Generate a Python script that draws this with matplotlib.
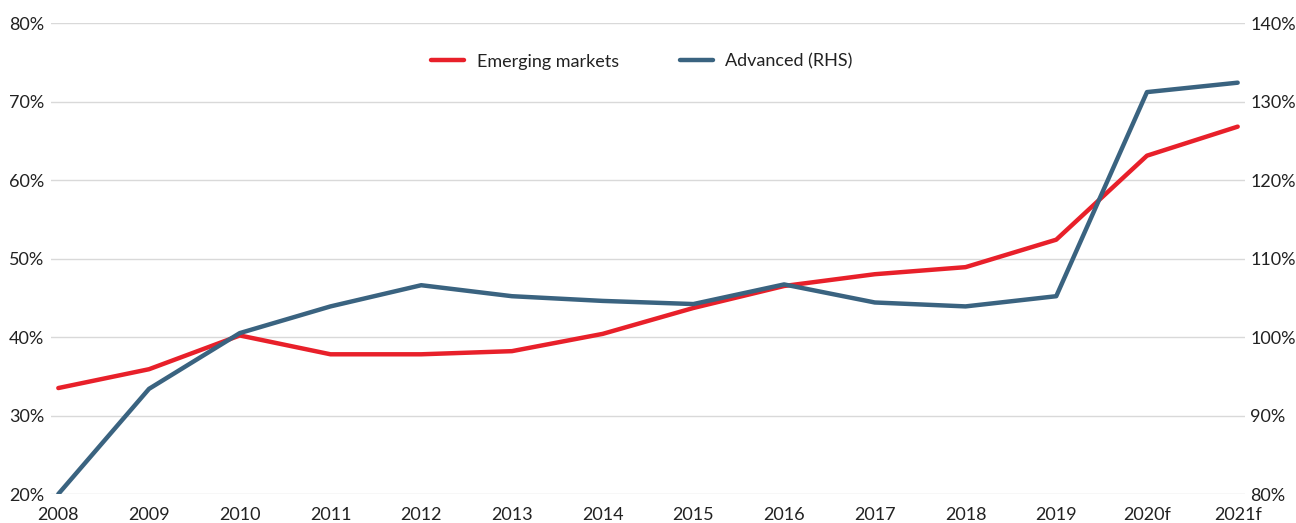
import numpy as np
import matplotlib.pyplot as plt

plt.rcParams['font.family'] = ['Lato', 'DejaVu Sans']

years = ['2008', '2009', '2010', '2011', '2012', '2013', '2014', '2015',
         '2016', '2017', '2018', '2019', '2020f', '2021f']
emerging = [33.5, 35.9, 40.2, 37.8, 37.8, 38.2, 40.4, 43.7,
            46.5, 48.0, 48.9, 52.4, 63.1, 66.8]
advanced = [80.0, 93.4, 100.5, 103.9, 106.6, 105.2, 104.6, 104.2,
            106.7, 104.4, 103.9, 105.2, 131.2, 132.4]

red = '#E8202A'
blue = '#3A6380'
grey = '#222222'

fig = plt.figure(figsize=(12.96, 5.23), dpi=100)
ax = fig.add_axes([0.0394, 0.0554, 0.9212, 0.9006])
ax2 = ax.twinx()

x = np.arange(len(years))
l1, = ax.plot(x, emerging, color=red, lw=3.2, solid_capstyle='round', zorder=3)
l2, = ax2.plot(x, advanced, color=blue, lw=3.2, solid_capstyle='round', zorder=3)

ax.set_ylim(20, 80)
ax2.set_ylim(80, 140)
ax.set_xlim(-0.08, 13.08)
ax.set_yticks(np.arange(20, 81, 10))
ax2.set_yticks(np.arange(80, 141, 10))
ax.set_yticklabels([f'{v}%' for v in range(20, 81, 10)])
ax2.set_yticklabels([f'{v}%' for v in range(80, 141, 10)])
ax.set_xticks(x)
ax.set_xticklabels(years)

ax.grid(axis='y', color='#d9d9d9', lw=1)
ax.set_axisbelow(True)
for a in (ax, ax2):
    for s in a.spines.values():
        s.set_visible(False)
    a.tick_params(length=0, labelsize=13, colors=grey)
ax.tick_params(axis='y', pad=5)
ax2.tick_params(axis='y', pad=4)
ax.tick_params(axis='x', pad=9)

ax.legend([l1, l2], ['Emerging markets', 'Advanced (RHS)'], loc='upper center',
          bbox_to_anchor=(0.495, 0.97), ncol=2, frameon=False, fontsize=13,
          handlelength=1.8, handletextpad=0.7, columnspacing=3.4, labelcolor=grey)

fig.savefig('out.png', dpi=100)
